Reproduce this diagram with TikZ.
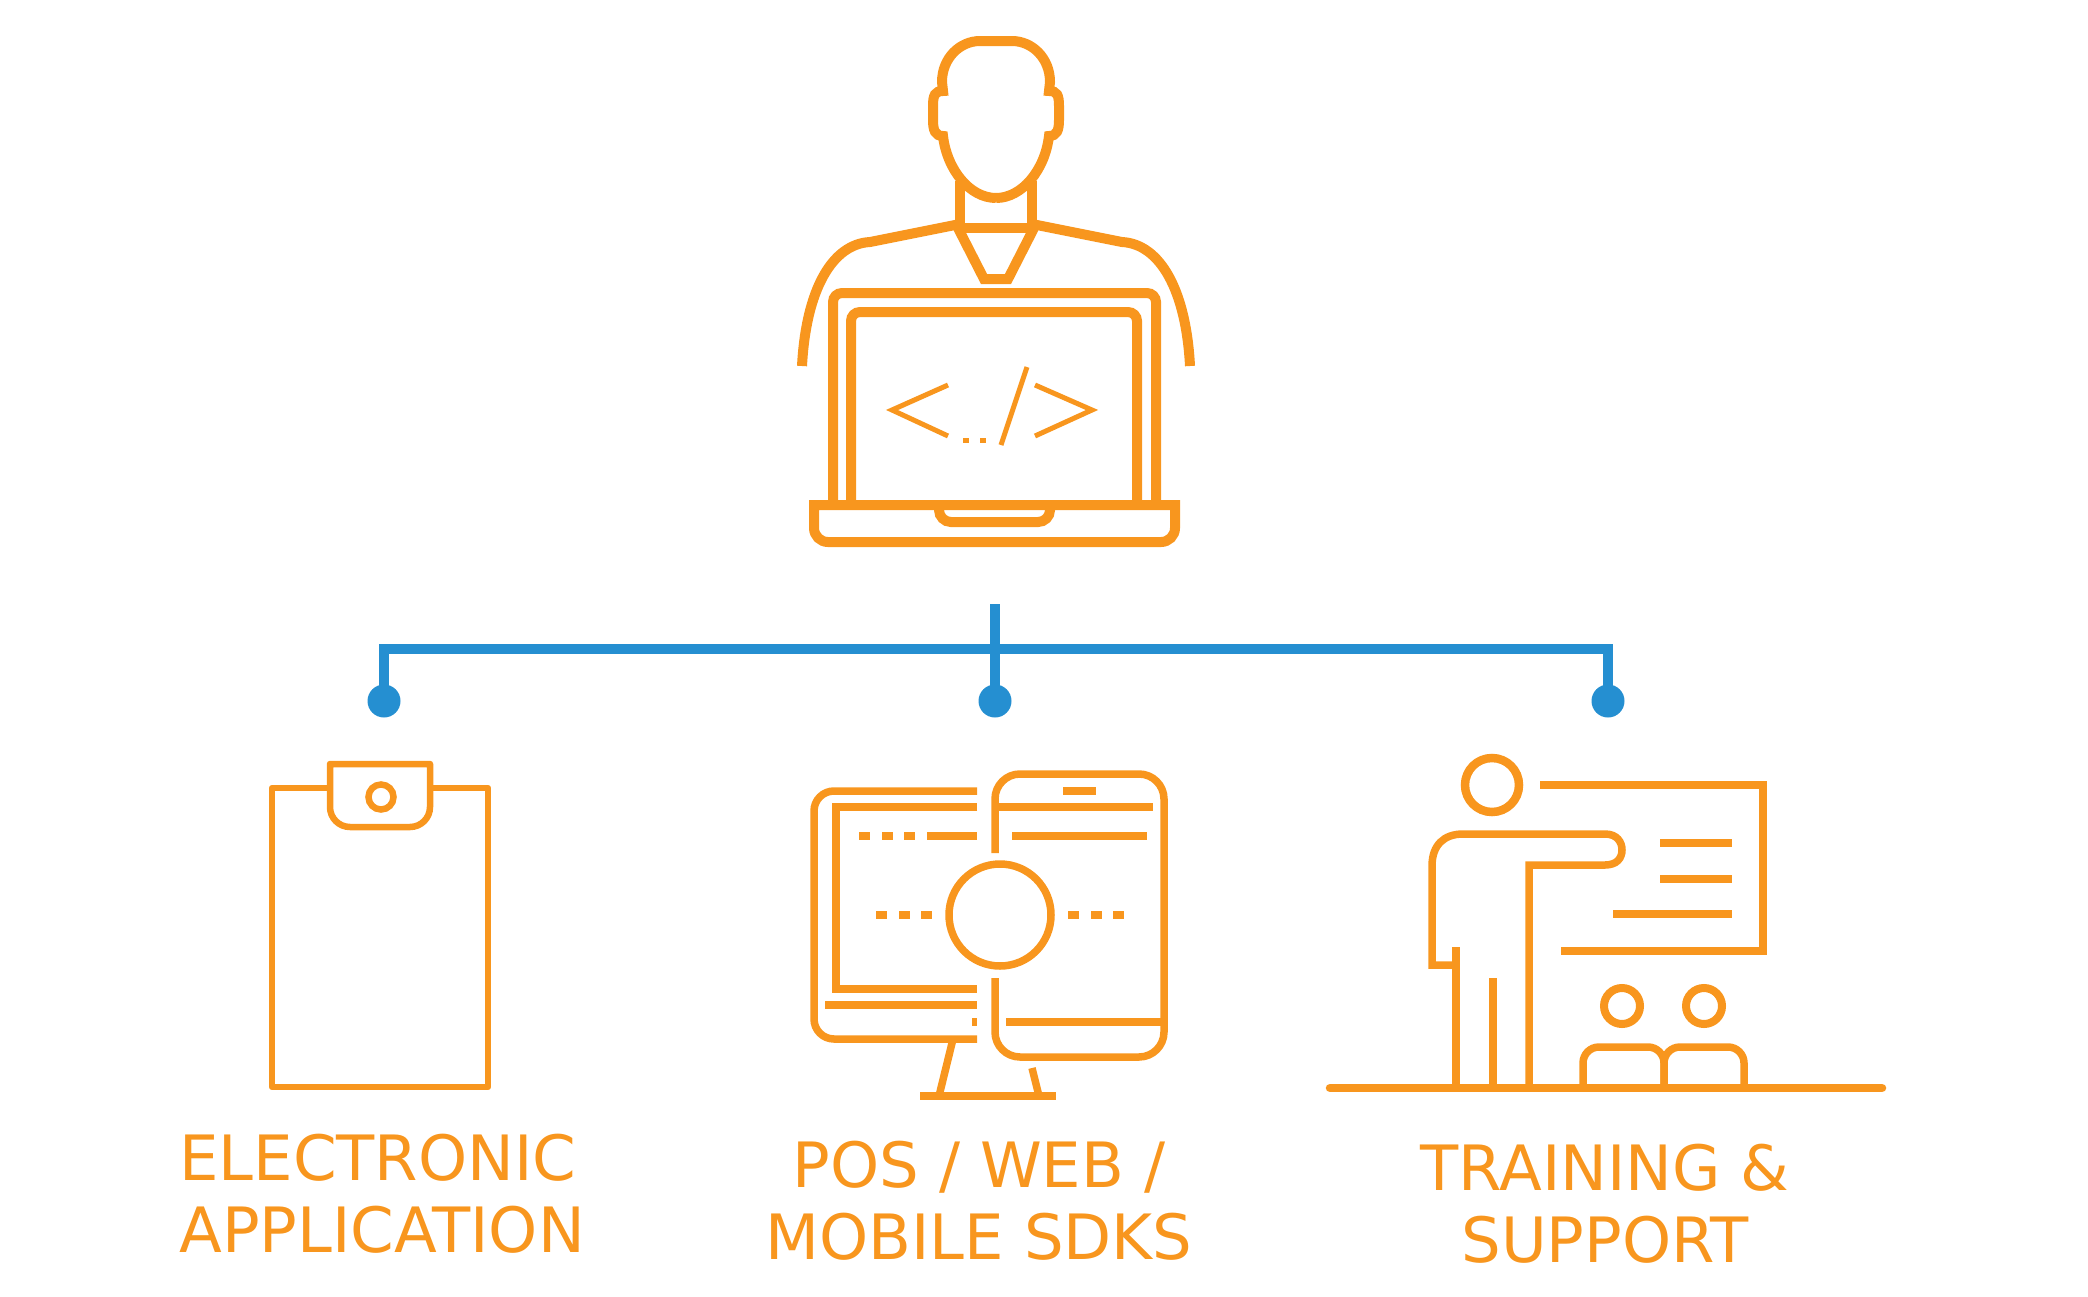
\documentclass[tikz,border=0pt]{standalone}
\usepackage{fontspec}
\setmainfont{DejaVu Sans}
\usepackage{xcolor}
\usetikzlibrary{positioning,calc}
\definecolor{iconorange}{HTML}{F8961E}
\definecolor{linkblue}{HTML}{258FD1}

\begin{document}
\begin{tikzpicture}[
    x=1pt,y=-1pt,
    icon/.style={draw=iconorange,line width=10pt},
    mid/.style={draw=iconorange,line width=7.5pt},
    fine/.style={draw=iconorange,line width=5pt},
    link/.style={draw=linkblue,line width=10pt},
    pin/.style={circle,fill=linkblue,inner sep=0pt,minimum size=33pt},
    lab/.style={text=iconorange,font=\fontsize{62.5}{72}\selectfont,align=center,inner sep=0pt}
  ]
    \useasboundingbox (0,0) rectangle (2088,1296);

    % developer and laptop
    \draw[icon] (996,198) .. controls (970,198) and (947,170) .. (943,136)
      .. controls (935,136) and (933,130) .. (933,120) -- (933,106)
      .. controls (933,95) and (935,91) .. (943,91) -- (942,82)
      .. controls (942,58) and (960,41) .. (980,41) -- (1012,41)
      .. controls (1032,41) and (1050,58) .. (1050,82) -- (1049,91)
      .. controls (1057,91) and (1059,95) .. (1059,106) -- (1059,120)
      .. controls (1059,130) and (1057,136) .. (1049,136)
      .. controls (1045,170) and (1022,198) .. (996,198);
    \draw[icon] (960,181) -- (960,228) -- (1032,228) -- (1032,181);
    \draw[icon] (958,228) -- (984,279) -- (1008,279) -- (1034,228);
    \draw[icon] (960,224) -- (870,242) .. controls (832,244) and (806,290) .. (802,366);
    \draw[icon] (1032,224) -- (1122,242) .. controls (1160,244) and (1186,290) .. (1190,366);
    \draw[icon,rounded corners=9pt] (833,506) -- (833,293) -- (1156,293) -- (1156,506);
    \draw[icon,rounded corners=9pt] (851,506) -- (851,312) -- (1137,312) -- (1137,506);
    \draw[icon] (1175,505) -- (814,505) [rounded corners=14pt] -- (814,542) -- (1175,542) [sharp corners] -- cycle;
    \draw[icon,rounded corners=12pt] (939,505) -- (939,522) -- (1050,522) -- (1050,505);
    \draw[fine] (948,385) -- (892,410) -- (948,436);
    \draw[fine] (1035,385) -- (1092,410) -- (1035,436);
    \draw[fine] (1027,367) -- (1001,445);
    \draw[fine] (963,440) -- (969,440) (980,440) -- (986,440);

    % tree
    \coordinate (top) at (995,604);
    \coordinate (hub) at (995,649);
    \node[pin] (apppin) at (384,701) {};
    \node[pin] (pospin) at (995,701) {};
    \node[pin] (trainpin) at (1608,701) {};
    \draw[link] (apppin.center) |- (hub) -| (trainpin.center);
    \draw[link] (top) -- (pospin.center);

    % clipboard
    \draw[mid,line width=6.5pt,line join=round] (330,788) -- (272,788) -- (272,1087) -- (488,1087) -- (488,788) -- (430,788);
    \draw[mid,line width=6.5pt,line join=round] (330,764) [rounded corners=20pt] -- (330,827) -- (430,827) [sharp corners] -- (430,764) -- cycle;
    \draw[mid,line width=6.5pt] (381,797) circle (12.5);

    % monitor and phone
    \draw[mid,rounded corners=20pt] (977,791) -- (814,791) -- (814,1039) -- (977,1039);
    \draw[mid] (977,807) -- (836,807) -- (836,989) -- (977,989);
    \draw[mid] (859,836) -- (870,836) (882,836) -- (893,836) (904,836) -- (915,836) (927,836) -- (977,836);
    \draw[mid] (825,1005) -- (977,1005);
    \draw[mid] (972,1022) -- (977,1022);
    \draw[mid] (953,1039) -- (939,1096);
    \draw[mid] (1032,1068) -- (1039,1096);
    \draw[mid] (920,1096) -- (1056,1096);
    \draw[mid,rounded corners=25pt] (995,853) -- (995,774) -- (1164,774) -- (1164,1057) -- (995,1057) -- (995,978);
    \draw[mid] (1063,791) -- (1096,791);
    \draw[mid] (995,807) -- (1153,807);
    \draw[mid] (1012,836) -- (1147,836);
    \draw[mid] (1006,1022) -- (1164,1022);
    \draw[mid] (1000,915) circle (51);
    \draw[mid] (876,915) -- (887,915) (899,915) -- (910,915) (921,915) -- (932,915);
    \draw[mid] (1068,915) -- (1079,915) (1091,915) -- (1102,915) (1113,915) -- (1124,915);

    % trainer and board
    \draw[mid,line width=8.5pt,line cap=round] (1330,1088) -- (1882,1088);
    \draw[mid,line width=8.5pt] (1492,785) circle (27);
    \draw[mid,line width=8pt] (1540,785) -- (1763,785) -- (1763,951) -- (1561,951);
    \draw[mid,line width=8pt] (1660,843) -- (1732,843);
    \draw[mid,line width=8pt] (1660,879) -- (1732,879);
    \draw[mid,line width=8pt] (1613,914) -- (1732,914);
    \draw[mid] (1456,965) -- (1432,965) -- (1432,866) .. controls (1432,845) and (1444,834) .. (1463,834)
      -- (1605,834) .. controls (1617,834) and (1622,842) .. (1622,850)
      .. controls (1622,858) and (1617,865) .. (1605,865) -- (1529,865) -- (1529,1088);
    \draw[mid] (1456,947) -- (1456,1088);
    \draw[mid] (1493,978) -- (1493,1088);
    \draw[mid,line width=8pt] (1622,1006) circle (18);
    \draw[mid,line width=8pt] (1704,1006) circle (18);
    \draw[mid,rounded corners=16pt] (1583,1088) -- (1583,1047) -- (1664,1047) -- (1664,1088);
    \draw[mid,rounded corners=16pt] (1664,1088) -- (1664,1047) -- (1744,1047) -- (1744,1088);

    % labels
    \node[lab,anchor=base,align=left] (applab) at (382,1252) {ELECTRONIC\\APPLICATION};
    \node[lab,anchor=base] (poslab) at (979,1259) {POS / WEB /\\MOBILE SDKS};
    \node[lab,anchor=base] (trainlab) at (1605,1262) {TRAINING \&\\SUPPORT};
  \end{tikzpicture}
\end{document}
